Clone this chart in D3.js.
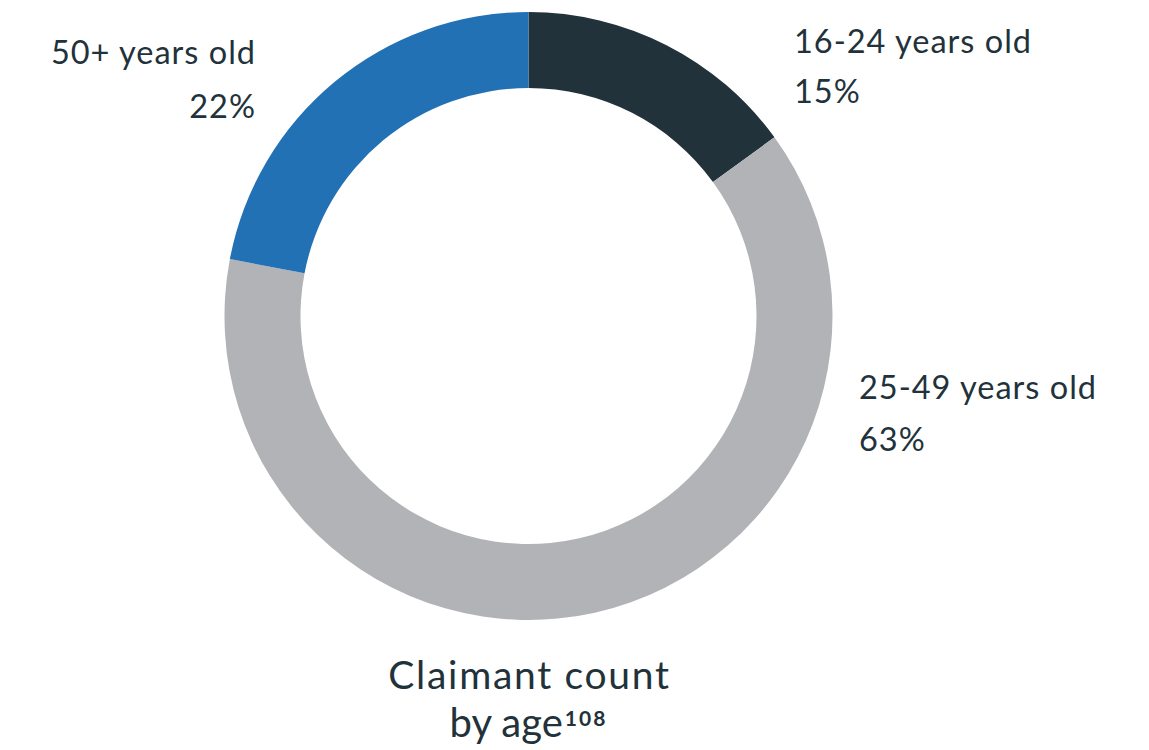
<!DOCTYPE html>
<html>
<head>
<meta charset="utf-8">
<script src="https://cdn.jsdelivr.net/npm/d3@7/dist/d3.min.js"></script>
<style>
  html, body { margin: 0; padding: 0; background: #ffffff; }
  svg { display: block; }
  text { font-family: Lato, "Noto Sans", sans-serif; fill: #22323b; }
</style>
</head>
<body>
<svg id="chart" width="1149" height="750"></svg>
<script>
// Claimant count by age group (% share)
const categories = ["16-24 years old", "25-49 years old", "50+ years old"];
const shares = [15, 63, 22];
const colours = ["#21323b", "#b1b3b6", "#2271b5"];

const width = 1149, height = 750;
const cx = 528.5, cy = 316;
const outerR = 304, innerR = 228;

const svg = d3.select("#chart");

const pie = d3.pie().sort(null).value(d => d.value);
const arc = d3.arc().innerRadius(innerR).outerRadius(outerR);

const data = categories.map((c, i) => ({ name: c, value: shares[i], colour: colours[i] }));

const g = svg.append("g").attr("transform", `translate(${cx},${cy})`);
g.selectAll("path")
  .data(pie(data))
  .join("path")
  .attr("d", arc)
  .attr("fill", d => d.data.colour);

// Segment labels: name on the first line, share beneath
const labelPos = [
  { x: 794, y1: 53, y2: 103, anchor: "start" },
  { x: 859, y1: 399, y2: 451, anchor: "start" },
  { x: 256, y1: 64, y2: 118, anchor: "end" }
];

const labels = svg.append("g");
data.forEach((d, i) => {
  const p = labelPos[i];
  labels.append("text")
    .attr("x", p.x).attr("y", p.y1)
    .attr("text-anchor", p.anchor)
    .attr("font-size", 32.5)
    .attr("letter-spacing", 1)
    .text(d.name);
  labels.append("text")
    .attr("x", p.x).attr("y", p.y2)
    .attr("text-anchor", p.anchor)
    .attr("font-size", 32.5)
    .attr("letter-spacing", 1)
    .text(d3.format("d")(d.value) + "%");
});

// Caption below the ring
const caption = svg.append("g");
caption.append("text")
  .attr("x", cx + 1).attr("y", 689)
  .attr("text-anchor", "middle")
  .attr("font-size", 39)
  .attr("letter-spacing", 1.7)
  .text("Claimant count");
const line2 = caption.append("text")
  .attr("x", cx).attr("y", 737)
  .attr("text-anchor", "middle")
  .attr("font-size", 40);
line2.append("tspan").text("by age");
line2.append("tspan")
  .attr("font-size", 21)
  .attr("font-weight", 700)
  .attr("letter-spacing", 2)
  .attr("dx", 2)
  .attr("dy", -11)
  .text("108");
</script>
</body>
</html>
